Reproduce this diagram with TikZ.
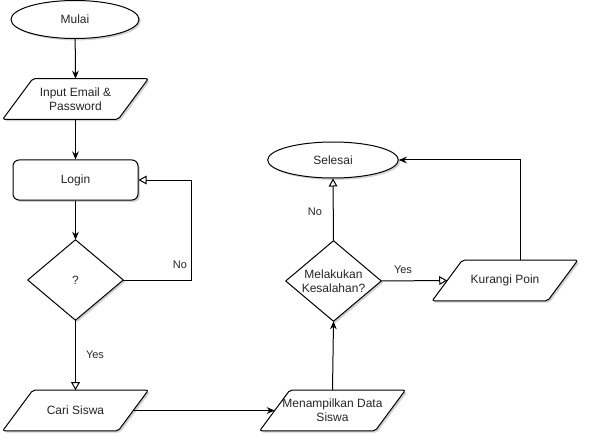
\documentclass[tikz,border=0pt]{standalone}
\usepackage{fontspec}
\setmainfont{Liberation Sans}
\usetikzlibrary{shapes.geometric,arrows.meta,shadows}
\begin{document}
\begin{tikzpicture}[x=0.75pt,y=-0.75pt,
  every node/.style={font=\fontsize{9pt}{10.5pt}\selectfont, text=black!85},
  shad/.style={drop shadow={shadow xshift=1.4pt,shadow yshift=-1.4pt,opacity=.18,fill=black}},
  term/.style={ellipse, draw, line width=0.75pt, fill=white, shad, inner sep=0pt},
  procbox/.style={rectangle, rounded corners=4.5pt, draw, line width=0.75pt, fill=white, shad, minimum width=93.75pt, minimum height=30pt, inner sep=0pt},
  parabox/.style={rectangle, minimum width=86.25pt, minimum height=30pt, inner sep=0pt, align=center},
  diabox/.style={rectangle, minimum width=71.25pt, minimum height=60pt, inner sep=0pt, align=center},
  shapeline/.style={draw, line width=0.75pt, fill=white, shad, line join=round},
  conn/.style={line width=0.75pt, -{Stealth[length=6pt,width=5pt]}},
  connopen/.style={line width=0.75pt, -{Triangle[open,length=6pt,width=6.5pt,fill=white]}},
  lbl/.style={font=\fontsize{8.25pt}{9.5pt}\selectfont, fill=none, inner sep=1pt}
]
\useasboundingbox (0,0) rectangle (592,442);
\def\sl{11.25pt}

% nodes
\node[term, minimum width=96pt, minimum height=28.5pt] (mulai) at (75,19.5) {Mulai};
\node[parabox] (inp) at (75.5,99) {Input Email \&\\Password};
\node[procbox] (login) at (75.5,180) {Login};
\node[diabox] (d1) at (75.5,280) {};
\node[parabox] (cari) at (75.5,410.5) {};
\node[parabox] (menam) at (332.5,410.5) {};
\node[diabox] (d2) at (333.5,281) {};
\node[term, minimum width=98pt, minimum height=27pt] (selesai) at (333,160) {Selesai};
\node[parabox] (kur) at (505,280.5) {};

% parallelogram outlines
\foreach \n in {inp,cari,menam,kur}{
  \path[shapeline, rounded corners=1.5pt] ([xshift=-\sl]\n.south west) -- ([xshift=\sl]\n.north west) -- ([xshift=\sl]\n.north east) -- ([xshift=-\sl]\n.south east) -- cycle;
}
% diamond outlines
\foreach \n in {d1,d2}{
  \path[shapeline] (\n.north) -- (\n.east) -- (\n.south) -- (\n.west) -- cycle;
}
% texts on top of outlines
\node[parabox] at (inp) {Input Email \&\\Password};
\node[parabox] at (cari) {Cari Siswa};
\node[parabox] at (menam) {Menampilkan Data\\Siswa};
\node[parabox] at (kur) {Kurangi Poin};
\node[diabox] at (d1) {?};
\node[diabox] at (d2) {Melakukan\\Kesalahan?};

% connectors
\coordinate (c1) at (191,180);
\coordinate (kurtop) at ([xshift=\sl]kur.north);
\draw[conn] (mulai) -- (inp.north);
\draw[conn] (inp.south) -- (login);
\draw[conn] (login) -- (d1.north);
\draw[connopen] (d1.east) -| (c1) -- (login.east);
\draw[connopen] (d1.south) -- (cari.north);
\draw[conn] (cari.east) -- (menam.west);
\draw[conn] (menam.north) -- (d2.south);
\draw[connopen] (d2.north) -- (selesai.south);
\draw[connopen] (d2.east) -- (kur.west);
\draw[conn] (kurtop) |- (selesai.east);

% labels
\node[lbl] (lno1) at (180,265) {No};
\node[lbl] (lyes1) at (95,355) {Yes};
\node[lbl] (lno2) at (315,212) {No};
\node[lbl] (lyes2) at (403,270) {Yes};
\end{tikzpicture}
\end{document}
